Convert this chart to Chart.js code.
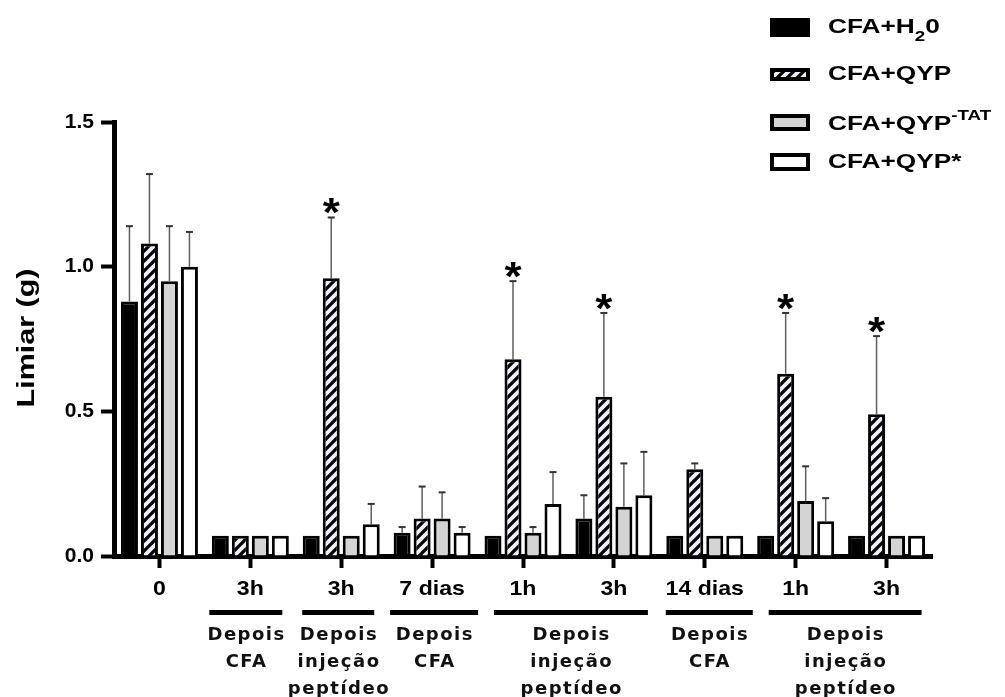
<!DOCTYPE html>
<html lang="pt">
<head>
    <meta charset="UTF-8">
    <title>Limiar (g)</title>
    <style>
        body {
            margin: 0;
            background-color: #fff;
        }
        canvas {
            display: block;
        }
    </style>
</head>
<body>

<canvas id="limiarChart" width="1005" height="697"></canvas>

<script src="https://cdn.jsdelivr.net/npm/chart.js"></script>
<script>
    // categories along the x axis
    const categories = ['0', '3h', '3h', '7 dias', '1h', '3h', '14 dias', '1h', '3h'];
    const seriesNames = ['CFA+H20', 'CFA+QYP', 'CFA+QYP-TAT', 'CFA+QYP*'];
    const yTitle = 'Limiar (g)';

    // means
    const h2o  = [0.88, 0.07, 0.07, 0.08, 0.07, 0.13, 0.07, 0.07, 0.07];
    const qyp  = [1.08, 0.07, 0.96, 0.13, 0.68, 0.55, 0.30, 0.63, 0.49];
    const tat  = [0.95, 0.07, 0.07, 0.13, 0.08, 0.17, 0.07, 0.19, 0.07];
    const star = [1.00, 0.07, 0.11, 0.08, 0.18, 0.21, 0.07, 0.12, 0.07];

    // upper error (SEM)
    const h2oErr  = [0.26, 0, 0, 0.02, 0, 0.08, 0, 0, 0];
    const qypErr  = [0.24, 0, 0.21, 0.11, 0.27, 0.29, 0.02, 0.21, 0.27];
    const tatErr  = [0.19, 0, 0, 0.09, 0.02, 0.15, 0, 0.12, 0];
    const starErr = [0.12, 0, 0.07, 0.02, 0.11, 0.15, 0, 0.08, 0];

    // significance marks on CFA+QYP
    const qypSig = [false, false, true, false, true, true, false, true, true];

    const yTicks = [0, 0.5, 1.0, 1.5];

    // bracket groups under the x axis
    const groupFrom  = [1, 2, 3, 4, 6, 7];
    const groupTo    = [1, 2, 3, 5, 6, 8];
    const groupText  = [
        ['Depois', 'CFA'],
        ['Depois', 'injeção', 'peptídeo'],
        ['Depois', 'CFA'],
        ['Depois', 'injeção', 'peptídeo'],
        ['Depois', 'CFA'],
        ['Depois', 'injeção', 'peptídeo']
    ];
    // how far each bracket line sticks out past its first / last tick (px)
    const groupPad = [[41, 32], [39, 33], [42, 46], [29, 34], [39, 48], [27, 35]];

    const errors = [h2oErr, qypErr, tatErr, starErr];

    const canvas = document.getElementById('limiarChart');
    const ctx = canvas.getContext('2d');

    function makeHatch() {
        const c = document.createElement('canvas');
        c.width = 10;
        c.height = 10;
        const g = c.getContext('2d');
        g.fillStyle = '#000';
        g.fillRect(0, 0, 10, 10);
        g.strokeStyle = '#eeeefa';
        g.lineWidth = 3.8;
        g.beginPath();
        g.moveTo(-5, 5); g.lineTo(5, -5);
        g.moveTo(0, 10); g.lineTo(10, 0);
        g.moveTo(5, 15); g.lineTo(15, 5);
        g.stroke();
        return ctx.createPattern(c, 'repeat');
    }
    const hatch = makeHatch();
    const fills = ['#000', hatch, '#d4d4d4', '#fff'];

    // the original figure is stretched sideways, so text gets a horizontal scale
    function stretchText(c, str, x, y, font, sx, align) {
        c.save();
        c.font = font;
        c.textAlign = align || 'center';
        c.textBaseline = 'alphabetic';
        c.translate(x, y);
        c.scale(sx, 1);
        c.fillText(str, 0, 0);
        c.restore();
    }

    // legend text parts: 0 normal, 1 subscript, 2 superscript
    const legendParts = [
        [['CFA+H', 0], ['2', 1], ['0', 0]],
        [['CFA+QYP', 0]],
        [['CFA+QYP', 0], ['-TAT', 2]],
        [['CFA+QYP*', 0]]
    ];
    const legendBaseline = [33, 80, 130, 168];
    const legendBox = [[18, 19], [68, 13], [114, 17], [153, 18]];

    const overlay = {
        id: 'overlay',
        beforeDatasetsDraw(chart) {
            const c = chart.ctx;
            const y = chart.scales.y;
            c.save();
            chart.data.datasets.forEach((ds, di) => {
                const meta = chart.getDatasetMeta(di);
                meta.data.forEach((bar, i) => {
                    const e = errors[di][i];
                    if (!e) return;
                    const top = y.getPixelForValue(ds.data[i] + e);
                    c.strokeStyle = '#5e5e5e';
                    c.lineWidth = 1.5;
                    c.beginPath();
                    c.moveTo(bar.x, bar.y);
                    c.lineTo(bar.x, top);
                    c.stroke();
                    c.strokeStyle = '#333';
                    c.lineWidth = 2;
                    c.beginPath();
                    c.moveTo(bar.x - 3.5, top);
                    c.lineTo(bar.x + 3.5, top);
                    c.stroke();
                });
            });
            c.restore();
        },
        afterDraw(chart) {
            const c = chart.ctx;
            const x = chart.scales.x;
            const y = chart.scales.y;
            c.save();
            c.fillStyle = '#000';

            // y title, stretched along its length like the rest of the text
            c.save();
            c.translate(34, (y.top + y.bottom) / 2 - 1);
            c.rotate(-Math.PI / 2);
            stretchText(c, yTitle, 0, 0, 'bold 24px "Liberation Sans"', 1.27);
            c.restore();

            // significance asterisks
            const meta = chart.getDatasetMeta(1);
            meta.data.forEach((bar, i) => {
                if (!qypSig[i]) return;
                const top = y.getPixelForValue(qyp[i] + qypErr[i]);
                stretchText(c, '*', bar.x, top + 9, 'bold 40px "Liberation Sans"', 1.1);
            });

            // category labels
            categories.forEach((lab, i) => {
                stretchText(c, lab, x.getPixelForValue(i), 595, 'bold 21px "Liberation Sans"', 1.1);
            });

            // brackets + group text
            groupFrom.forEach((f, g) => {
                const x0 = x.getPixelForValue(f) - groupPad[g][0];
                const x1 = x.getPixelForValue(groupTo[g]) + groupPad[g][1];
                c.fillRect(x0, 610, x1 - x0, 5);
                const cx = (x0 + x1) / 2;
                c.save();
                c.font = 'bold 18px "DejaVu Sans"';
                c.letterSpacing = '1.5px';
                c.textAlign = 'center';
                c.fillStyle = '#111';
                groupText[g].forEach((t, k) => {
                    c.fillText(t, cx + 0.75, 640 + k * 27);
                });
                c.restore();
            });

            // legend
            legendParts.forEach((parts, r) => {
                const [by, bh] = legendBox[r];
                c.fillStyle = fills[r];
                c.fillRect(770, by, 40, bh);
                c.strokeStyle = '#000';
                c.lineWidth = 4;
                c.strokeRect(772, by + 2, 36, bh - 4);
                c.fillStyle = '#000';
                let tx = 828;
                const base = legendBaseline[r];
                parts.forEach(([t, kind]) => {
                    const font = kind ? 'bold 15px "Liberation Sans"' : 'bold 21px "Liberation Sans"';
                    const dy = kind === 1 ? 8 : kind === 2 ? -10 : 0;
                    const sx = 1.25;
                    stretchText(c, t, tx, base + dy, font, sx, 'left');
                    c.font = font;
                    tx += c.measureText(t).width * sx;
                });
            });
            c.restore();
        }
    };

    const config = {
        type: 'bar',
        data: {
            labels: categories,
            datasets: [h2o, qyp, tat, star].map((d, i) => ({
                label: seriesNames[i],
                data: d,
                backgroundColor: fills[i],
                borderColor: '#000',
                borderWidth: 3,
                barPercentage: 0.85,
                categoryPercentage: 0.88
            }))
        },
        options: {
            responsive: false,
            animation: false,
            layout: {
                padding: { top: 122, right: 73, left: 0, bottom: 0 }
            },
            plugins: {
                legend: { display: false },
                tooltip: { enabled: false }
            },
            scales: {
                x: {
                    z: 1,
                    afterFit: s => { s.height = 141; },
                    grid: {
                        offset: false,
                        drawOnChartArea: false,
                        drawTicks: true,
                        tickLength: 12,
                        tickWidth: 4,
                        tickColor: '#000'
                    },
                    border: { display: true, color: '#000', width: 5 },
                    ticks: { display: false }
                },
                y: {
                    z: 1,
                    min: 0,
                    max: 1.5,
                    afterFit: s => { s.width = 114; },
                    afterBuildTicks: s => { s.ticks = yTicks.map(v => ({ value: v })); },
                    grid: {
                        drawOnChartArea: false,
                        drawTicks: true,
                        tickLength: 13,
                        tickWidth: 4,
                        tickColor: '#000'
                    },
                    border: { display: true, color: '#000', width: 5 },
                    ticks: {
                        padding: 7,
                        color: '#000',
                        font: { family: 'Liberation Sans', size: 21, weight: 'bold' },
                        callback: v => v.toFixed(1)
                    }
                }
            }
        },
        plugins: [overlay]
    };

    window.limiarChart = new Chart(ctx, config);
</script>

</body>
</html>
